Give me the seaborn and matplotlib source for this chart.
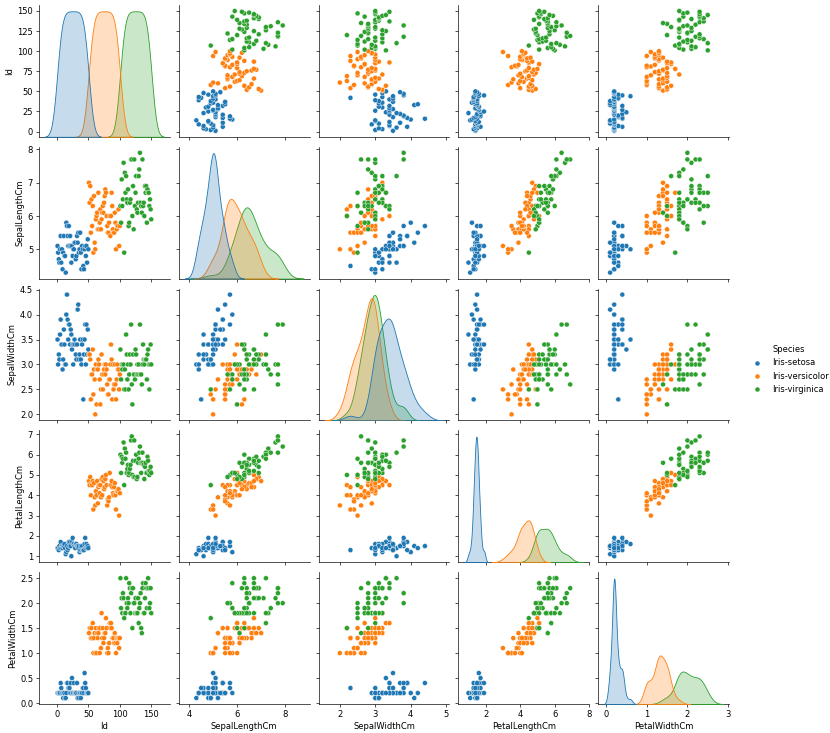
import matplotlib
matplotlib.use("Agg")
import matplotlib.pyplot as plt
import seaborn as sns
import pandas as pd

species_names = ["Iris-setosa", "Iris-versicolor", "Iris-virginica"]

ids = [
    1, 2, 3, 4, 5, 6, 7, 8, 9, 10, 11, 12, 13, 14, 15, 16, 17, 18, 19, 20,
    21, 22, 23, 24, 25, 26, 27, 28, 29, 30, 31, 32, 33, 34, 35, 36, 37, 38, 39, 40,
    41, 42, 43, 44, 45, 46, 47, 48, 49, 50, 51, 52, 53, 54, 55, 56, 57, 58, 59, 60,
    61, 62, 63, 64, 65, 66, 67, 68, 69, 70, 71, 72, 73, 74, 75, 76, 77, 78, 79, 80,
    81, 82, 83, 84, 85, 86, 87, 88, 89, 90, 91, 92, 93, 94, 95, 96, 97, 98, 99, 100,
    101, 102, 103, 104, 105, 106, 107, 108, 109, 110, 111, 112, 113, 114, 115, 116, 117, 118, 119, 120,
    121, 122, 123, 124, 125, 126, 127, 128, 129, 130, 131, 132, 133, 134, 135, 136, 137, 138, 139, 140,
    141, 142, 143, 144, 145, 146, 147, 148, 149, 150,
]

sepal_length = [
    5.1, 4.9, 4.7, 4.6, 5.0, 5.4, 4.6, 5.0, 4.4, 4.9, 5.4, 4.8, 4.8, 4.3, 5.8, 5.7, 5.4, 5.1, 5.7, 5.1,
    5.4, 5.1, 4.6, 5.1, 4.8, 5.0, 5.0, 5.2, 5.2, 4.7, 4.8, 5.4, 5.2, 5.5, 4.9, 5.0, 5.5, 4.9, 4.4, 5.1,
    5.0, 4.5, 4.4, 5.0, 5.1, 4.8, 5.1, 4.6, 5.3, 5.0,
    7.0, 6.4, 6.9, 5.5, 6.5, 5.7, 6.3, 4.9, 6.6, 5.2, 5.0, 5.9, 6.0, 6.1, 5.6, 6.7, 5.6, 5.8, 6.2, 5.6,
    5.9, 6.1, 6.3, 6.1, 6.4, 6.6, 6.8, 6.7, 6.0, 5.7, 5.5, 5.5, 5.8, 6.0, 5.4, 6.0, 6.7, 6.3, 5.6, 5.5,
    5.5, 6.1, 5.8, 5.0, 5.6, 5.7, 5.7, 6.2, 5.1, 5.7,
    6.3, 5.8, 7.1, 6.3, 6.5, 7.6, 4.9, 7.3, 6.7, 7.2, 6.5, 6.4, 6.8, 5.7, 5.8, 6.4, 6.5, 7.7, 7.7, 6.0,
    6.9, 5.6, 7.7, 6.3, 6.7, 7.2, 6.2, 6.1, 6.4, 7.2, 7.4, 7.9, 6.4, 6.3, 6.1, 7.7, 6.3, 6.4, 6.0, 6.9,
    6.7, 6.9, 5.8, 6.8, 6.7, 6.7, 6.3, 6.5, 6.2, 5.9,
]

sepal_width = [
    3.5, 3.0, 3.2, 3.1, 3.6, 3.9, 3.4, 3.4, 2.9, 3.1, 3.7, 3.4, 3.0, 3.0, 4.0, 4.4, 3.9, 3.5, 3.8, 3.8,
    3.4, 3.7, 3.6, 3.3, 3.4, 3.0, 3.4, 3.5, 3.4, 3.2, 3.1, 3.4, 4.1, 4.2, 3.1, 3.2, 3.5, 3.1, 3.0, 3.4,
    3.5, 2.3, 3.2, 3.5, 3.8, 3.0, 3.8, 3.2, 3.7, 3.3,
    3.2, 3.2, 3.1, 2.3, 2.8, 2.8, 3.3, 2.4, 2.9, 2.7, 2.0, 3.0, 2.2, 2.9, 2.9, 3.1, 3.0, 2.7, 2.2, 2.5,
    3.2, 2.8, 2.5, 2.8, 2.9, 3.0, 2.8, 3.0, 2.9, 2.6, 2.4, 2.4, 2.7, 2.7, 3.0, 3.4, 3.1, 2.3, 3.0, 2.5,
    2.6, 3.0, 2.6, 2.3, 2.7, 3.0, 2.9, 2.9, 2.5, 2.8,
    3.3, 2.7, 3.0, 2.9, 3.0, 3.0, 2.5, 2.9, 2.5, 3.6, 3.2, 2.7, 3.0, 2.5, 2.8, 3.2, 3.0, 3.8, 2.6, 2.2,
    3.2, 2.8, 2.8, 2.7, 3.3, 3.2, 2.8, 3.0, 2.8, 3.0, 2.8, 3.8, 2.8, 2.8, 2.6, 3.0, 3.4, 3.1, 3.0, 3.1,
    3.1, 3.1, 2.7, 3.2, 3.3, 3.0, 2.5, 3.0, 3.4, 3.0,
]

petal_length = [
    1.4, 1.4, 1.3, 1.5, 1.4, 1.7, 1.4, 1.5, 1.4, 1.5, 1.5, 1.6, 1.4, 1.1, 1.2, 1.5, 1.3, 1.4, 1.7, 1.5,
    1.7, 1.5, 1.0, 1.7, 1.9, 1.6, 1.6, 1.5, 1.4, 1.6, 1.6, 1.5, 1.5, 1.4, 1.5, 1.2, 1.3, 1.5, 1.3, 1.5,
    1.3, 1.3, 1.3, 1.6, 1.9, 1.4, 1.6, 1.4, 1.5, 1.4,
    4.7, 4.5, 4.9, 4.0, 4.6, 4.5, 4.7, 3.3, 4.6, 3.9, 3.5, 4.2, 4.0, 4.7, 3.6, 4.4, 4.5, 4.1, 4.5, 3.9,
    4.8, 4.0, 4.9, 4.7, 4.3, 4.4, 4.8, 5.0, 4.5, 3.5, 3.8, 3.7, 3.9, 5.1, 4.5, 4.5, 4.7, 4.4, 4.1, 4.0,
    4.4, 4.6, 4.0, 3.3, 4.2, 4.2, 4.2, 4.3, 3.0, 4.1,
    6.0, 5.1, 5.9, 5.6, 5.8, 6.6, 4.5, 6.3, 5.8, 6.1, 5.1, 5.3, 5.5, 5.0, 5.1, 5.3, 5.5, 6.7, 6.9, 5.0,
    5.7, 4.9, 6.7, 4.9, 5.7, 6.0, 4.8, 4.9, 5.6, 5.8, 6.1, 6.4, 5.6, 5.1, 5.6, 6.1, 5.6, 5.5, 4.8, 5.4,
    5.6, 5.1, 5.1, 5.9, 5.7, 5.2, 5.0, 5.2, 5.4, 5.1,
]

petal_width = [
    0.2, 0.2, 0.2, 0.2, 0.2, 0.4, 0.3, 0.2, 0.2, 0.1, 0.2, 0.2, 0.1, 0.1, 0.2, 0.4, 0.4, 0.3, 0.3, 0.3,
    0.2, 0.4, 0.2, 0.5, 0.2, 0.2, 0.4, 0.2, 0.2, 0.2, 0.2, 0.4, 0.1, 0.2, 0.1, 0.2, 0.2, 0.1, 0.2, 0.2,
    0.3, 0.3, 0.2, 0.6, 0.4, 0.3, 0.2, 0.2, 0.2, 0.2,
    1.4, 1.5, 1.5, 1.3, 1.5, 1.3, 1.6, 1.0, 1.3, 1.4, 1.0, 1.5, 1.0, 1.4, 1.3, 1.4, 1.5, 1.0, 1.5, 1.1,
    1.8, 1.3, 1.5, 1.2, 1.3, 1.4, 1.4, 1.7, 1.5, 1.0, 1.1, 1.0, 1.2, 1.6, 1.5, 1.6, 1.5, 1.3, 1.3, 1.3,
    1.2, 1.4, 1.2, 1.0, 1.3, 1.2, 1.3, 1.3, 1.1, 1.3,
    2.5, 1.9, 2.1, 1.8, 2.2, 2.1, 1.7, 1.8, 1.8, 2.5, 2.0, 1.9, 2.1, 2.0, 2.4, 2.3, 1.8, 2.2, 2.3, 1.5,
    2.3, 2.0, 2.0, 1.8, 2.1, 1.8, 1.8, 1.8, 2.1, 1.6, 1.9, 2.0, 2.2, 1.5, 1.4, 2.3, 2.4, 1.8, 1.8, 2.1,
    2.4, 2.3, 1.9, 2.3, 2.5, 2.3, 1.9, 2.0, 2.3, 1.8,
]

species = [species_names[0]] * 50 + [species_names[1]] * 50 + [species_names[2]] * 50

df = pd.DataFrame({
    "Id": ids,
    "SepalLengthCm": sepal_length,
    "SepalWidthCm": sepal_width,
    "PetalLengthCm": petal_length,
    "PetalWidthCm": petal_width,
    "Species": species,
})

plt.rcParams["font.family"] = ["DejaVu Sans"]
W, H = 830, 733
DPI = 60  # reference looks like a downscaled 72-dpi rendering
g = sns.pairplot(df, hue="Species", height=2.5)
g.figure.set_size_inches(W / DPI, H / DPI)
g.figure.subplots_adjust(left=39 / W, right=729 / W, top=1 - 5 / H,
                         bottom=1 - 704 / H, wspace=0.069, hspace=0.076)
g.legend.set_bbox_to_anchor((1.0 + 6 / W, 0.5 - 3 / H))
g.figure.savefig("out.png", dpi=DPI)
